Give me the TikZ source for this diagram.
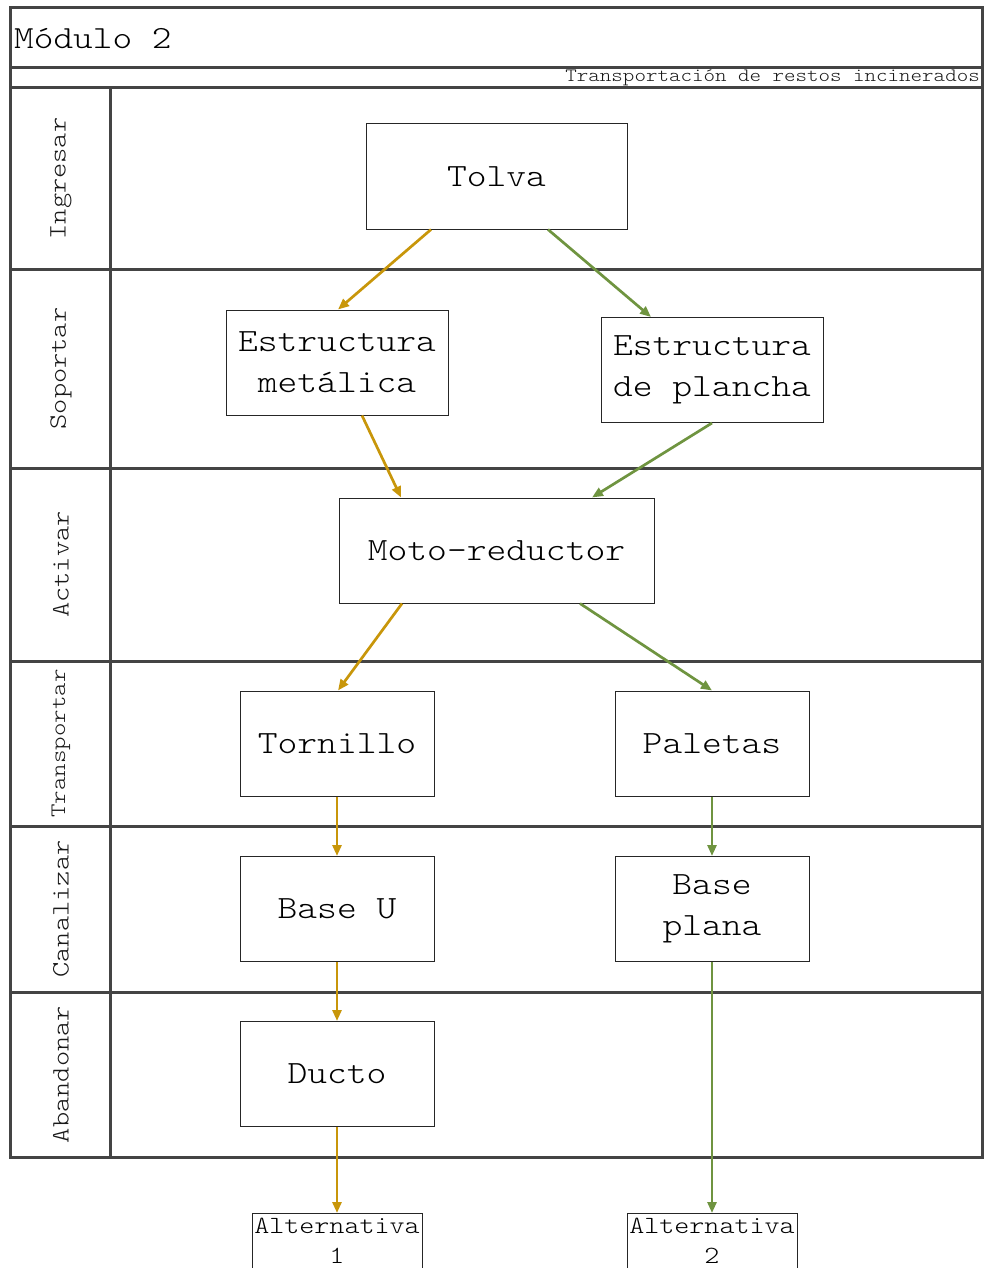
\documentclass[tikz,border=0pt]{standalone}
\usepackage{fontspec}
\setmainfont{Latin Modern Mono Light}[FakeStretch=1.16]
\usetikzlibrary{arrows.meta}
\definecolor{frame}{HTML}{444444}
\definecolor{ocre}{HTML}{C8960A}
\definecolor{verde}{HTML}{6F9440}

\begin{document}
\begin{tikzpicture}[x=1pt,y=-1pt,
  grid/.style={draw=frame, line width=3pt},
  part/.style={draw=black!85, line width=1pt, minimum height=105pt,
    align=center, inner sep=0pt, font=\fontsize{32.5}{41}\selectfont},
  endbox/.style={draw=black!85, line width=1pt, minimum width=170pt,
    minimum height=105pt, anchor=north, inner sep=0pt},
  lanelabel/.style={rotate=90, text=black!90, font=\fontsize{25}{30}\selectfont},
  flowA/.style={draw=ocre, line width=2.7pt, -{Triangle[length=11pt,width=9pt]}},
  flowB/.style={draw=verde, line width=2.7pt, -{Triangle[length=11pt,width=9pt]}},
]
\useasboundingbox (0,0) rectangle (984,1268);

% swimlane frame
\draw[grid] (10,8) rectangle (982,1157);
\foreach \yy in {68,88,269,468,661,826,992}
  \draw[grid] (10,\yy) -- (982,\yy);
\draw[grid] (110,88) -- (110,1157);

% header texts
\node[anchor=west, inner sep=0pt, font=\fontsize{32.3}{38}\selectfont] (title) at (14,39) {Módulo 2};
\node[anchor=east, inner sep=0pt, text=black!90, font=\fontsize{18.9}{22}\selectfont] (subtitle) at (980,78) {Transportación de restos incinerados};

% lane labels
\node[lanelabel] (l1) at (61,178.5) {Ingresar};
\node[lanelabel] (l2) at (61,368.5) {Soportar};
\node[lanelabel] (l3) at (61,564.5) {Activar};
\node[lanelabel, font=\fontsize{22.1}{26}\selectfont] (l4) at (61,743.5) {Transportar};
\node[lanelabel] (l5) at (61,909) {Canalizar};
\node[lanelabel] (l6) at (61,1074.5) {Abandonar};

% components
\node[part, minimum width=261pt] (tolva) at (496.5,176.5) {Tolva};
\node[part, minimum width=222pt] (estm) at (337,362.5) {Estructura\\metálica};
\node[part, minimum width=222pt] (estp) at (712,370) {Estructura\\de plancha};
\node[part, minimum width=315pt] (moto) at (496.5,550.5) {Moto-reductor};
\node[part, minimum width=194pt] (torn) at (337,743.5) {Tornillo};
\node[part, minimum width=194pt] (pal) at (712,743.5) {Paletas};
\node[part, minimum width=194pt] (baseu) at (337,909) {Base U};
\node[part, minimum width=194pt] (basep) at (712,909) {Base\\plana};
\node[part, minimum width=194pt] (ducto) at (337,1074) {Ducto};

% alternatives
\node[endbox, label={[anchor=north, align=center, inner sep=5pt,
  font=\fontsize{24.7}{30}\selectfont]north:{Alternativa\\1}}] (alt1) at (337,1213) {};
\node[endbox, label={[anchor=north, align=center, inner sep=5pt,
  font=\fontsize{24.7}{30}\selectfont]north:{Alternativa\\2}}] (alt2) at (712,1213) {};

% alternative 1
\draw[flowA] ([xshift=-65.5pt]tolva.south) -- ([xshift=1pt]estm.north);
\draw[flowA] ([xshift=25pt]estm.south) -- ([xshift=-95.5pt]moto.north);
\draw[flowA] ([xshift=-94.5pt]moto.south) -- ([xshift=1pt]torn.north);
\draw[flowA] (torn.south) -- (baseu.north);
\draw[flowA] (baseu.south) -- (ducto.north);
\draw[flowA] (ducto.south) -- (alt1.north);

% alternative 2
\draw[flowB] ([xshift=51.5pt]tolva.south) -- ([xshift=-61pt]estp.north);
\draw[flowB] (estp.south) -- ([xshift=95.5pt]moto.north);
\draw[flowB] ([xshift=83.5pt]moto.south) -- (pal.north);
\draw[flowB] (pal.south) -- (basep.north);
\draw[flowB] (basep.south) -- (alt2.north);
\end{tikzpicture}
\end{document}
